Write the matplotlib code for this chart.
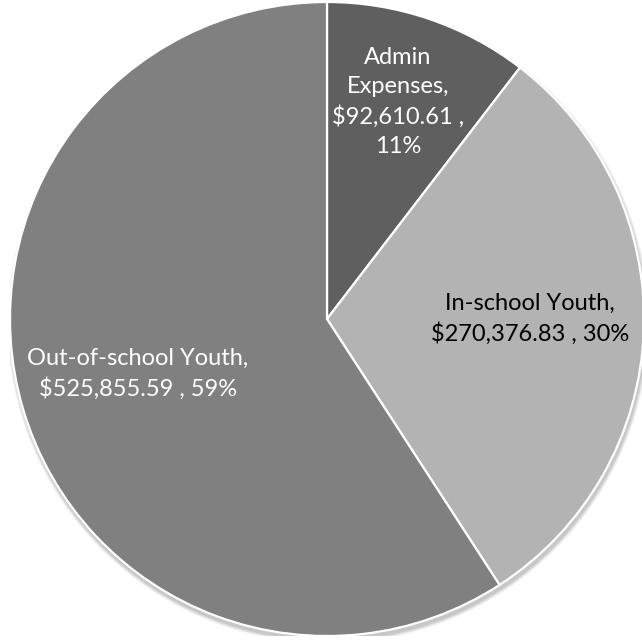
import matplotlib
matplotlib.use("Agg")
import matplotlib.pyplot as plt
from matplotlib.patches import Circle

categories = ["Admin Expenses", "In-school Youth", "Out-of-school Youth"]
values = [92610.61, 270376.83, 525855.59]
percents = ["11%", "30%", "59%"]
colors = ["#5f5f5f", "#b3b3b3", "#808080"]
text_colors = ["white", "black", "white"]
label_texts = [
    "Admin\nExpenses,\n$92,610.61 ,\n11%",
    "In-school Youth,\n$270,376.83 , 30%",
    "Out-of-school Youth,\n$525,855.59 , 59%",
]
# label anchor positions (pixels from top-left)
label_px = [(398, 102), (530, 319), (138, 374)]

plt.rcParams['font.family'] = ['Lato', 'DejaVu Sans']

fig = plt.figure(figsize=(6.42, 6.43), dpi=100)
r_px = 317
cx, cy = 327, 319
ax = fig.add_axes([(cx - r_px) / 642, 1 - (cy + r_px) / 643, 2 * r_px / 642, 2 * r_px / 643])
ax.axis("off")

# soft shadow
for i, a in enumerate([0.05, 0.05, 0.06, 0.07]):
    ax.add_patch(Circle((0.004, -0.012), 1.0 + 0.012 - i * 0.003, color="black", alpha=a, lw=0, zorder=0))

wedges, _ = ax.pie(values, colors=colors, startangle=90, counterclock=False, radius=1.0,
                   wedgeprops=dict(edgecolor="white", linewidth=1.6), frame=False)
for w in wedges:
    w.set_zorder(2)
ax.set_xlim(-1.0, 1.0)
ax.set_ylim(-1.0, 1.0)

for txt, pos, tc in zip(label_texts, label_px, text_colors):
    fig.text(pos[0] / 642, 1 - pos[1] / 643, txt, ha="center", va="center", color=tc,
             fontsize=17, linespacing=1.45)

fig.savefig("out.png", dpi=100)
